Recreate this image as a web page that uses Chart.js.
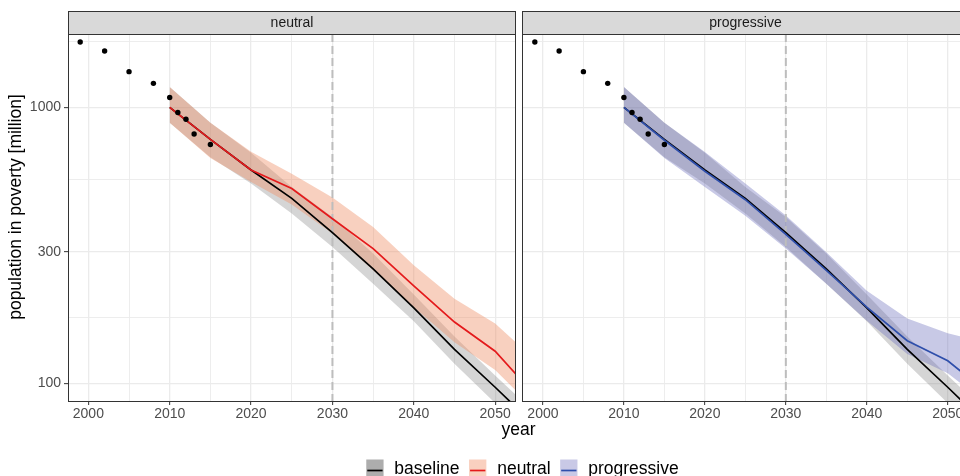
<!DOCTYPE html>
<html lang="en">
<head>
    <meta charset="UTF-8">
    <title>Population in poverty</title>
    <script src="https://cdn.jsdelivr.net/npm/chart.js"></script>
    <style>
        html, body {
            margin: 0;
            padding: 0;
            background: #fff;
            overflow: hidden;
        }
        body {
            position: relative;
            width: 960px;
            height: 476px;
        }
        canvas {
            position: absolute;
            top: 0;
        }
        #neutralChart { left: 0; }
        #progressiveChart { left: 512px; }
    </style>
</head>
<body>
    <canvas id="neutralChart" width="960" height="476"></canvas>
    <canvas id="progressiveChart" width="460" height="476"></canvas>

    <script>
        // observed population in poverty (million)
        var histYears = [1999, 2002, 2005, 2008, 2010, 2011, 2012, 2013, 2015];
        var histPoverty = [1723, 1599, 1346, 1221, 1085, 957, 905, 801, 733];

        // projections (median and band)
        var projYears = [2010, 2015, 2020, 2025, 2030, 2035, 2040, 2045, 2050, 2055];
        var baselineMid  = [1000, 765, 593, 468, 352, 260, 188, 133, 97, 70];
        var baselineLow  = [880, 660, 530, 413, 312, 230, 168, 118, 85, 61];
        var baselineHigh = [1184, 880, 685, 515, 401, 296, 210, 148, 107, 78];
        var neutralMid  = [1000, 765, 593, 508, 395, 308, 226, 167, 131, 90];
        var neutralLow  = [880, 655, 537, 445, 349, 257, 189, 141, 112, 80];
        var neutralHigh = [1184, 880, 690, 575, 472, 369, 268, 203, 165, 121];
        var progressiveMid  = [1000, 760, 587, 463, 347, 257, 189, 143, 121, 92];
        var progressiveLow  = [880, 655, 515, 405, 308, 230, 169, 128, 109, 84];
        var progressiveHigh = [1184, 880, 689, 530, 406, 299, 217, 172, 152, 140];

        var refYear = 2030;
        var legendLabels = ['baseline', 'neutral', 'progressive'];

        // axes
        var xMin = 1997.5, xMax = 2052.5;
        var xBreaks = [2000, 2010, 2020, 2030, 2040, 2050];
        var yMin = 86.5, yMax = 1842;
        var yBreaks = [30, 100, 300, 1000, 3000];

        var FONT = "'Liberation Sans', Arial, Helvetica, sans-serif";
        var colors = {
            baseline: { line: '#000000', fill: 'rgba(127,127,127,0.33)', key: '#adadad' },
            neutral: { line: '#e41a1c', fill: 'rgba(238,143,103,0.42)', key: '#f9d0bf' },
            progressive: { line: '#2f4fab', fill: 'rgba(103,105,186,0.36)', key: '#c9c9e6' }
        };

        // major + minor grid positions
        var xGrid = [];
        xBreaks.forEach(function (v, i) {
            xGrid.push(v);
            if (i < xBreaks.length - 1) xGrid.push((v + xBreaks[i + 1]) / 2);
        });
        xGrid.unshift(xBreaks[0] - 5);
        xGrid.push(xBreaks[xBreaks.length - 1] + 5);
        xGrid = xGrid.filter(function (v) { return v >= xMin && v <= xMax; });

        var yGrid = [];
        yBreaks.forEach(function (v, i) {
            yGrid.push(v);
            if (i < yBreaks.length - 1) yGrid.push(Math.sqrt(v * yBreaks[i + 1]));
        });
        yGrid = yGrid.filter(function (v) { return v >= yMin && v <= yMax; });

        function isBreak(list, v) {
            return list.some(function (b) { return Math.abs(b - v) < 1e-6; });
        }

        function pts(ys) {
            return projYears.map(function (yr, i) { return { x: yr, y: ys[i] }; });
        }

        function buildDatasets(name, mid, low, high) {
            var c = colors[name];
            return [
                { data: pts(baselineHigh), fill: '+1', backgroundColor: colors.baseline.fill, borderWidth: 0, pointRadius: 0, order: 20 },
                { data: pts(baselineLow), fill: false, borderWidth: 0, pointRadius: 0, order: 20 },
                { data: pts(high), fill: '+1', backgroundColor: c.fill, borderWidth: 0, pointRadius: 0, order: 15 },
                { data: pts(low), fill: false, borderWidth: 0, pointRadius: 0, order: 15 },
                { data: pts(baselineMid), borderColor: colors.baseline.line, borderWidth: 1.7, pointRadius: 0, fill: false, order: 10 },
                { data: pts(mid), borderColor: c.line, borderWidth: 1.7, pointRadius: 0, fill: false, order: 5 },
                {
                    data: histYears.map(function (yr, i) { return { x: yr, y: histPoverty[i] }; }),
                    showLine: false, pointRadius: 2.7, pointBackgroundColor: '#000', pointBorderWidth: 0, order: 1
                }
            ];
        }

        // strip, panel border and 2030 reference line
        var panelPlugin = {
            id: 'panel',
            beforeDatasetDraw: function (chart, args, opts) {
                if (args.index !== 4) return;
                var a = chart.chartArea, ctx = chart.ctx;
                var x = chart.scales.x.getPixelForValue(refYear);
                ctx.save();
                ctx.beginPath();
                ctx.rect(a.left, a.top, a.right - a.left, a.bottom - a.top);
                ctx.clip();
                ctx.strokeStyle = '#bdbdbd';
                ctx.lineWidth = 2;
                ctx.setLineDash([8, 4]);
                ctx.beginPath();
                ctx.moveTo(x, a.top);
                ctx.lineTo(x, a.bottom);
                ctx.stroke();
                ctx.restore();
            },
            afterDraw: function (chart, args, opts) {
                var a = chart.chartArea, ctx = chart.ctx;
                var l = Math.floor(a.left) + 0.5, r = Math.floor(a.right) + 0.5;
                var t = Math.floor(a.top) + 0.5, b = Math.floor(a.bottom) + 0.5;
                ctx.save();
                ctx.fillStyle = '#d9d9d9';
                ctx.fillRect(l, 11, r - l, t - 11);
                ctx.strokeStyle = '#333333';
                ctx.lineWidth = 1;
                ctx.strokeRect(l, 11.5, r - l, t - 11.5);
                ctx.strokeRect(l, t, r - l, b - t);
                ctx.fillStyle = '#1a1a1a';
                ctx.font = '14px ' + FONT;
                ctx.textAlign = 'center';
                ctx.textBaseline = 'middle';
                ctx.fillText(opts.label, (l + r) / 2, (11 + t) / 2 + 0.5);
                ctx.restore();
            }
        };

        // axis titles and legend, drawn on the left canvas
        var annotPlugin = {
            id: 'annot',
            afterDraw: function (chart) {
                var ctx = chart.ctx;
                ctx.save();
                ctx.fillStyle = '#000';
                ctx.font = '17.5px ' + FONT;
                ctx.textAlign = 'center';
                ctx.textBaseline = 'alphabetic';
                ctx.fillText('year', 518.5, 434.5);

                ctx.save();
                ctx.translate(20.5, 207);
                ctx.rotate(-Math.PI / 2);
                ctx.fillText('population in poverty [million]', 0, 0);
                ctx.restore();

                var keyW = 17.3, gapKey = 10.8, gapItem = 9.5;
                var widths = legendLabels.map(function (s) { return ctx.measureText(s).width; });
                var total = 0;
                widths.forEach(function (w, i) {
                    total += keyW + gapKey + w + (i < widths.length - 1 ? gapItem : 0);
                });
                var x = 522.5 - total / 2;
                ctx.textAlign = 'left';
                legendLabels.forEach(function (name, i) {
                    var c = colors[name];
                    ctx.fillStyle = c.key;
                    ctx.fillRect(x, 459.5, keyW, 18);
                    ctx.strokeStyle = c.line;
                    ctx.lineWidth = 1.7;
                    ctx.beginPath();
                    ctx.moveTo(x + 1, 470.5);
                    ctx.lineTo(x + keyW - 1, 470.5);
                    ctx.stroke();
                    ctx.fillStyle = '#000';
                    ctx.fillText(name, x + keyW + gapKey, 473.5);
                    x += keyW + gapKey + widths[i] + gapItem;
                });
                ctx.restore();
            }
        };

        function panelOptions(label, yWidth, padRight, showY) {
            return {
                responsive: false,
                animation: false,
                events: [],
                layout: { padding: { top: 34, right: padRight, left: 0, bottom: 0 } },
                elements: { line: { tension: 0 } },
                plugins: {
                    legend: { display: false },
                    tooltip: { enabled: false },
                    panel: { label: label }
                },
                scales: {
                    x: {
                        type: 'linear',
                        min: xMin,
                        max: xMax,
                        afterBuildTicks: function (s) {
                            s.ticks = xGrid.map(function (v) { return { value: v }; });
                        },
                        afterFit: function (s) { s.height = 75; },
                        border: { display: false },
                        grid: {
                            color: '#ebebeb',
                            lineWidth: function (c) { return c.tick && isBreak(xBreaks, c.tick.value) ? 1.3 : 0.9; },
                            tickLength: 4,
                            tickWidth: 1,
                            tickColor: function (c) { return c.tick && isBreak(xBreaks, c.tick.value) ? '#333333' : 'rgba(0,0,0,0)'; }
                        },
                        ticks: {
                            autoSkip: false,
                            maxRotation: 0,
                            padding: 1,
                            color: '#4d4d4d',
                            font: { family: FONT, size: 14 },
                            callback: function (v) { return isBreak(xBreaks, v) ? String(v) : ''; }
                        }
                    },
                    y: {
                        type: 'logarithmic',
                        min: yMin,
                        max: yMax,
                        afterBuildTicks: function (s) {
                            s.ticks = yGrid.map(function (v) { return { value: v }; });
                        },
                        afterFit: function (s) { s.width = yWidth; },
                        border: { display: false },
                        grid: {
                            color: '#ebebeb',
                            lineWidth: function (c) { return c.tick && isBreak(yBreaks, c.tick.value) ? 1.3 : 0.9; },
                            drawTicks: showY,
                            tickLength: 4,
                            tickWidth: 1,
                            tickColor: function (c) { return c.tick && isBreak(yBreaks, c.tick.value) ? '#333333' : 'rgba(0,0,0,0)'; }
                        },
                        ticks: {
                            display: showY,
                            autoSkip: false,
                            padding: 3,
                            color: '#4d4d4d',
                            font: { family: FONT, size: 14 },
                            callback: function (v) { return isBreak(yBreaks, v) ? String(v) : ''; }
                        }
                    }
                }
            };
        }

        new Chart(document.getElementById('neutralChart'), {
            type: 'line',
            data: { datasets: buildDatasets('neutral', neutralMid, neutralLow, neutralHigh) },
            options: panelOptions('neutral', 68, 444.5, true),
            plugins: [panelPlugin, annotPlugin]
        });

        new Chart(document.getElementById('progressiveChart'), {
            type: 'line',
            data: { datasets: buildDatasets('progressive', progressiveMid, progressiveLow, progressiveHigh) },
            options: panelOptions('progressive', 10.7, 2.2, false),
            plugins: [panelPlugin]
        });
    </script>
</body>
</html>
